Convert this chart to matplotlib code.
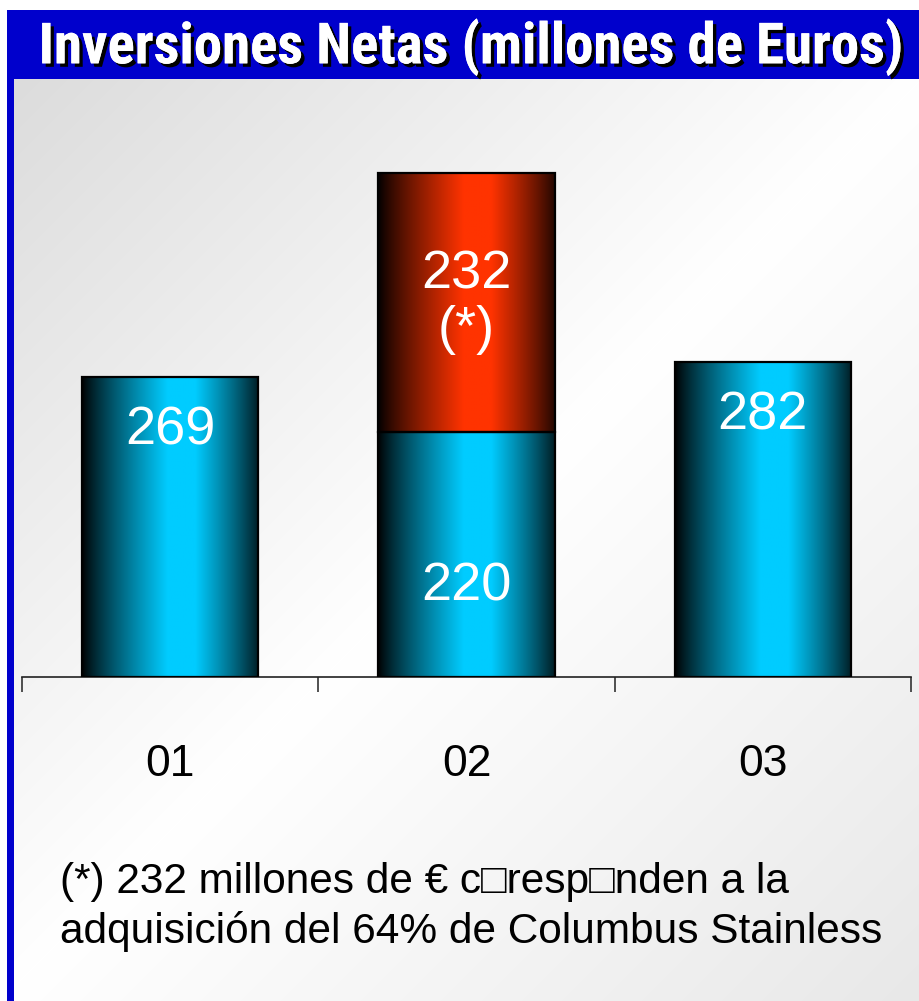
import numpy as np
import matplotlib
matplotlib.use("Agg")
import matplotlib.pyplot as plt
from matplotlib.patches import Rectangle
import matplotlib.patheffects as pe
from matplotlib import font_manager

# ---- data ----
years = ["01", "02", "03"]
base_values = [269, 220, 282]          # net investment (M EUR)
extra_values = [0, 232, 0]              # acquisition component (*)
base_labels = ["269", "220", "282"]
extra_labels = ["", "232\n(*)", ""]
title = "Inversiones Netas (millones de Euros)"
footnote = ["(*) 232 millones de \u20ac c\u25a1resp\u25a1nden a la",
            "adquisición del 64% de Columbus Stainless"]

W, H = 919, 1001
DPI = 100
fig = plt.figure(figsize=(W / DPI, H / DPI), dpi=DPI)
fig.patch.set_facecolor("white")

installed = {f.name for f in font_manager.fontManager.ttflist}
narrow_family = next((n for n in ["Liberation Sans Narrow", "Arial Narrow",
                                  "Roboto Condensed", "DejaVu Sans Condensed",
                                  "Liberation Sans"] if n in installed),
                     "DejaVu Sans")


def px_axes(x0, y0, x1, y1, **kw):
    """Axes positioned in pixel coordinates (origin at top-left)."""
    return fig.add_axes([x0 / W, 1 - y1 / H, (x1 - x0) / W, (y1 - y0) / H], **kw)


# ---- frame: blue header band and left rule ----
frame = px_axes(0, 0, W, H)
frame.axis("off")
frame.add_patch(Rectangle((7, 10), W - 7, 69, color="#0000cc", lw=0))
frame.add_patch(Rectangle((7, 10), 7, H - 10, color="#0000cc", lw=0))

# ---- soft grey-white-grey diagonal background ----
bx0, by0, bx1, by1 = 14, 79, W, H
yy, xx = np.mgrid[by0:by1, bx0:bx1]
s = (xx + yy).astype(float)
s0, smid, s1 = 90.0, 1000.0, 1920.0
g = np.where(s < smid,
             0.862 + (1.0 - 0.862) * (s - s0) / (smid - s0),
             1.0 - (1.0 - 0.91) * (s - smid) / (s1 - smid))
g = np.clip(g, 0, 1)
bg = np.dstack([g, g, g])
frame.imshow(bg, extent=[bx0, bx1, by1, by0], aspect="auto", zorder=0,
             interpolation="bilinear")
frame.set_xlim(0, W)
frame.set_ylim(H, 0)

# ---- title (sized to span the header band) ----
title_txt = fig.text(471 / W, 1 - 47 / H, title, color="white", fontsize=33,
                     fontweight="bold", family=narrow_family,
                     ha="center", va="center",
                     path_effects=[pe.withSimplePatchShadow(
                         offset=(2.5, -2.5), shadow_rgbFace="black", alpha=1.0),
                         pe.Normal()])
renderer = fig.canvas.get_renderer()
tw = title_txt.get_window_extent(renderer).width
title_txt.set_fontsize(min(42, 33 * 866 / tw))

# ---- bar chart ----
ax = px_axes(22, 97, 911, 677)
ax.patch.set_alpha(0)
bar_w = 0.595


def gradient(peak):
    u = np.linspace(0, 1, 256)
    inten = np.clip(1 - np.abs(u - 0.57) / np.where(u < 0.57, 0.57, 0.47), 0, 1) ** 0.85
    inten = np.clip(inten * 1.15, 0, 1)
    row = np.outer(inten, np.array(peak) / 255.0)
    return row[np.newaxis, :, :]


cyan = gradient((0, 204, 255))
red = gradient((255, 51, 0))

x = np.arange(len(years))
for i in x:
    left = i - bar_w / 2
    segs = [(0, base_values[i], cyan)]
    if extra_values[i]:
        segs.append((base_values[i], base_values[i] + extra_values[i], red))
    for lo, hi, img in segs:
        ax.imshow(img, extent=[left, left + bar_w, lo, hi], aspect="auto",
                  interpolation="bilinear", zorder=2)
        ax.add_patch(Rectangle((left, lo), bar_w, hi - lo, fill=False,
                               ec="black", lw=1.6, zorder=3))

ax.set_xlim(-0.5, 2.5)
ax.set_ylim(0, 520)

# value labels
lab_font = dict(color="white", fontsize=39, family="Liberation Sans",
                ha="center", va="center", zorder=4)
for i in x:
    if extra_values[i]:
        ax.text(i, base_values[i] * 0.37, base_labels[i], **lab_font)
        mid = base_values[i] + extra_values[i] / 2
        ax.text(i, mid, extra_labels[i], linespacing=1.15, **lab_font)
    else:
        ax.text(i, base_values[i] - 48, base_labels[i], **lab_font)

# axis styling
for side in ("left", "right", "top"):
    ax.spines[side].set_visible(False)
ax.spines["bottom"].set_linewidth(1.2)
ax.spines["bottom"].set_color("#222222")
ax.set_yticks([])
ax.set_xticks(x)
ax.set_xticklabels(years, fontsize=32, family="Liberation Sans")
ax.tick_params(axis="x", which="major", length=0, pad=48)
ax.set_xticks([-0.5, 0.5, 1.5, 2.5], minor=True)
ax.tick_params(axis="x", which="minor", length=11, width=1.1,
               direction="out", color="#222222")

# ---- footnote ----
for k, line in enumerate(footnote):
    fig.text(60 / W, 1 - (893 + k * 50) / H, line, fontsize=30.5,
             family=["Liberation Sans", "DejaVu Sans"],
             ha="left", va="baseline", color="black")

fig.savefig("out.png", dpi=DPI)
